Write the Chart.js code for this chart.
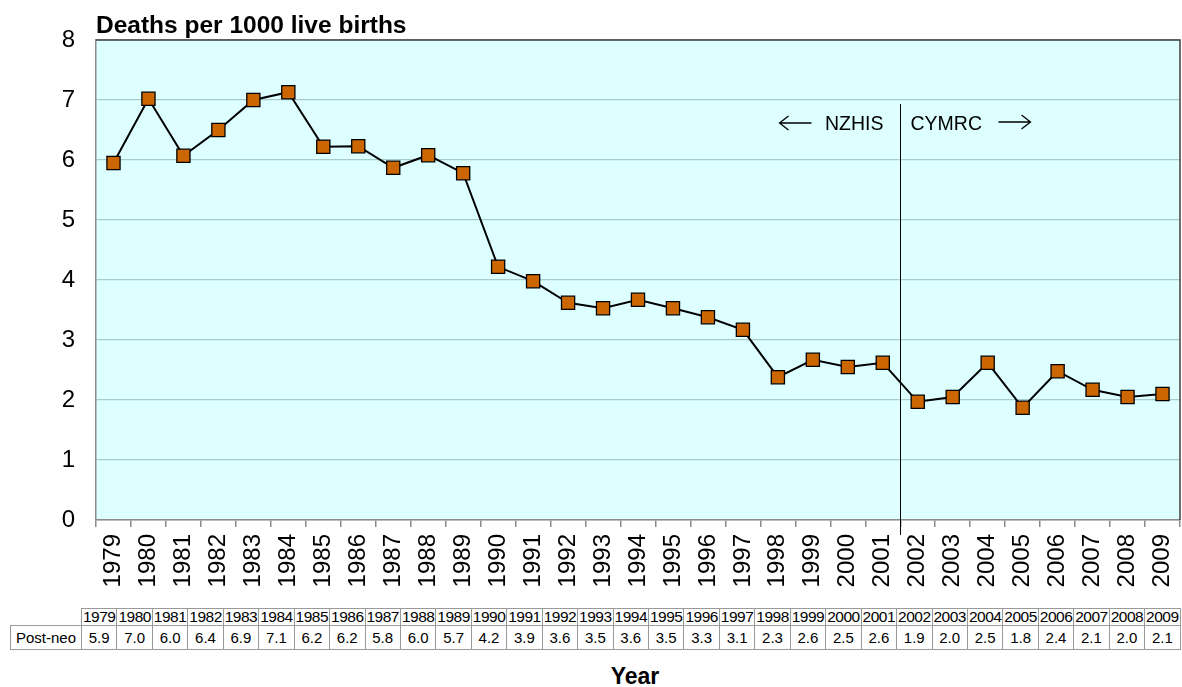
<!DOCTYPE html>
<html>
<head>
<meta charset="utf-8">
<script src="https://cdn.jsdelivr.net/npm/chart.js@4/dist/chart.umd.min.js"></script>
<style>
  body { margin: 0; background: #fff; font-family: Arial, "Liberation Sans", sans-serif; }
  #wrap { position: relative; width: 1182px; height: 687px; }
  #chart { position: absolute; left: 0; top: 0; }
  #tbl { position: absolute; left: 10px; top: 608px; border-collapse: collapse; table-layout: fixed; }
  #tbl td { border: 1px solid #9a9a9a; padding: 0; text-align: center; color: #000; overflow: hidden; white-space: nowrap; }
  #tbl tr.yr td { height: 16px; font-size: 15.5px; letter-spacing: -0.5px; line-height: 16px; }
  #tbl tr.val td { height: 23px; font-size: 15px; }
  #tbl td.blank { border: none; }
  #xtitle { position: absolute; left: 0; width: 1270px; top: 663px; text-align: center; font-weight: bold; font-size: 23px; }
</style>
</head>
<body>
<div id="wrap">
  <canvas id="chart" width="1182" height="600"></canvas>
  <table id="tbl"></table>
  <div id="xtitle">Year</div>
</div>
<script>
// categories
var years = ['1979','1980','1981','1982','1983','1984','1985','1986','1987','1988','1989','1990','1991','1992','1993','1994','1995','1996','1997','1998','1999','2000','2001','2002','2003','2004','2005','2006','2007','2008','2009'];
// plotted rate (deaths per 1000 live births)
var postNeo = [5.95, 7.02, 6.07, 6.5, 7.0, 7.13, 6.22, 6.23, 5.87, 6.08, 5.78, 4.22, 3.98, 3.62, 3.53, 3.67, 3.53, 3.38, 3.17, 2.38, 2.67, 2.55, 2.62, 1.97, 2.05, 2.62, 1.87, 2.48, 2.17, 2.05, 2.1];
// values as printed in the data table
var tableValues = ['5.9','7.0','6.0','6.4','6.9','7.1','6.2','6.2','5.8','6.0','5.7','4.2','3.9','3.6','3.5','3.6','3.5','3.3','3.1','2.3','2.6','2.5','2.6','1.9','2.0','2.5','1.8','2.4','2.1','2.0','2.1'];
var yTicks = [0, 1, 2, 3, 4, 5, 6, 7, 8];
var seriesName = 'Post-neo';
var sourceSplit = '2001'; // NZHIS up to here, CYMRC after
var leftSource = 'NZHIS', rightSource = 'CYMRC';

var FONT = 'Arial, "Liberation Sans", sans-serif';

// --- data table under the chart ---
(function buildTable() {
  var tbl = document.getElementById('tbl');
  var colW = 35.45;
  var cg = '<colgroup><col style="width:71px">';
  years.forEach(function() { cg += '<col style="width:' + colW + 'px">'; });
  cg += '</colgroup>';
  var r1 = '<tr class="yr"><td class="blank"></td>';
  years.forEach(function(y) { r1 += '<td>' + y + '</td>'; });
  r1 += '</tr>';
  var r2 = '<tr class="val"><td>' + seriesName + '</td>';
  tableValues.forEach(function(v) { r2 += '<td>' + v + '</td>'; });
  r2 += '</tr>';
  tbl.style.width = (71 + colW * years.length) + 'px';
  tbl.innerHTML = cg + r1 + r2;
})();

// background, frame, title and source annotation
var decor = {
  id: 'decor',
  beforeDraw: function(chart) {
    var a = chart.chartArea, ctx = chart.ctx;
    ctx.save();
    ctx.fillStyle = '#DDFFFF';
    ctx.fillRect(a.left, a.top, a.right - a.left, a.bottom - a.top);
    ctx.restore();
  },
  afterDatasetsDraw: function(chart) {
    var a = chart.chartArea, ctx = chart.ctx, x = chart.scales.x;
    ctx.save();
    // frame: top / right darker
    ctx.strokeStyle = '#404040';
    ctx.lineWidth = 1.5;
    ctx.beginPath();
    ctx.moveTo(a.left, a.top); ctx.lineTo(a.right, a.top); ctx.lineTo(a.right, a.bottom);
    ctx.stroke();
    // title
    ctx.fillStyle = '#000';
    ctx.font = 'bold 24.5px ' + FONT;
    ctx.textAlign = 'left';
    ctx.textBaseline = 'alphabetic';
    ctx.fillText('Deaths per 1000 live births', a.left, a.top - 7);
    // source split line
    var i = years.indexOf(sourceSplit);
    var sx = Math.round((x.getPixelForValue(i) + x.getPixelForValue(i + 1)) / 2) + 0.5;
    ctx.strokeStyle = '#000';
    ctx.lineWidth = 1;
    ctx.beginPath();
    ctx.moveTo(sx, a.top + 64); ctx.lineTo(sx, a.bottom + 15);
    ctx.stroke();
    var ty = a.top + 85;
    ctx.font = '19.5px ' + FONT;
    ctx.textBaseline = 'middle';
    ctx.textAlign = 'right';
    ctx.fillText(leftSource, sx - 17, ty);
    ctx.textAlign = 'left';
    ctx.fillText(rightSource, sx + 10, ty);
    // arrows
    ctx.lineWidth = 1.3;
    ctx.beginPath();
    ctx.moveTo(sx - 89, ty - 2); ctx.lineTo(sx - 121, ty - 2);
    ctx.moveTo(sx - 112, ty - 9); ctx.lineTo(sx - 121, ty - 2); ctx.lineTo(sx - 112, ty + 5);
    ctx.moveTo(sx + 98, ty - 3); ctx.lineTo(sx + 130, ty - 3);
    ctx.moveTo(sx + 121, ty - 10); ctx.lineTo(sx + 130, ty - 3); ctx.lineTo(sx + 121, ty + 4);
    ctx.stroke();
    ctx.restore();
  }
};

new Chart(document.getElementById('chart').getContext('2d'), {
  type: 'line',
  data: {
    labels: years,
    datasets: [{
      label: seriesName,
      data: postNeo,
      borderColor: '#000',
      borderWidth: 2,
      tension: 0,
      pointStyle: 'rect',
      pointRadius: 9.3,
      pointHoverRadius: 9.3,
      pointBackgroundColor: '#CC6600',
      pointBorderColor: '#000',
      pointBorderWidth: 1.3
    }]
  },
  options: {
    responsive: false,
    animation: false,
    devicePixelRatio: 1,
    layout: { autoPadding: false, padding: { top: 40, left: 0, right: 2, bottom: 0 } },
    plugins: { legend: { display: false }, tooltip: { enabled: false }, title: { display: false } },
    scales: {
      y: {
        min: 0, max: 8,
        afterFit: function(s) { s.width = 96; s.paddingTop = 0; s.paddingBottom = 0; },
        afterBuildTicks: function(s) { s.ticks = yTicks.map(function(v) { return { value: v }; }); },
        ticks: { color: '#000', font: { family: FONT, size: 24 }, padding: 21 },
        grid: { color: '#A8CCCC', lineWidth: 1.2, drawTicks: false },
        border: { color: '#8a8a8a', width: 1.5 }
      },
      x: {
        offset: true,
        afterFit: function(s) { s.height = 80; s.paddingLeft = 0; s.paddingRight = 0; },
        ticks: { color: '#000', font: { family: FONT, size: 24 }, minRotation: 90, maxRotation: 90, autoSkip: false, padding: 7 },
        grid: { offset: true, drawOnChartArea: false, drawTicks: true, tickLength: 7, color: '#8a8a8a', lineWidth: 1.5 },
        border: { color: '#8a8a8a', width: 1.5 }
      }
    }
  },
  plugins: [decor]
});
</script>
</body>
</html>
